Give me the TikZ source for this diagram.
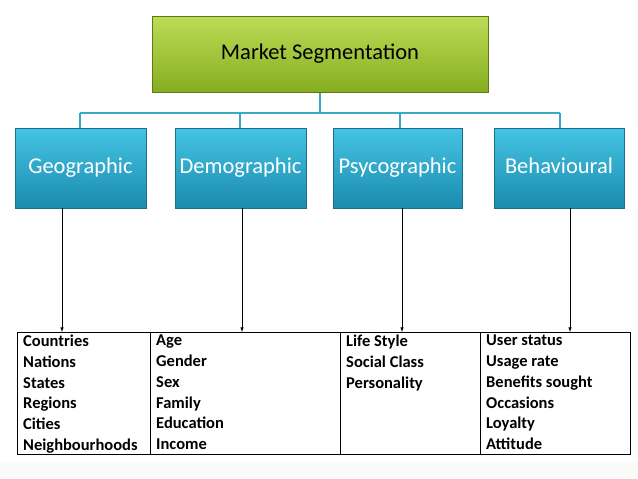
\documentclass[tikz,border=0pt]{standalone}
\usepackage{fontspec}
\setmainfont{Carlito}
\definecolor{gtop}{HTML}{BCDC55}
\definecolor{gbot}{HTML}{86AE22}
\definecolor{btop}{HTML}{45C4E4}
\definecolor{bbot}{HTML}{1B8BAE}
\definecolor{lnk}{HTML}{3AA6C8}
\tikzset{
 gbox/.style={draw=gbot!70!black, line width=0.6pt, top color=gtop, bottom color=gbot},
 bbox/.style={draw=bbot!80!black, line width=0.6pt, top color=btop, bottom color=bbot, text=white, text height=16pt, text depth=5pt, minimum height=80pt, font=\fontsize{22.5}{26}\selectfont},
 conn/.style={draw=lnk, line width=2.2pt},
 arr/.style={-latex, line width=0.6pt},
 item/.style={anchor=north west, inner sep=0pt, font=\fontsize{16.5}{20.7}\selectfont\bfseries, align=left}
}
\begin{document}
\begin{tikzpicture}[x=1pt,y=-1pt]
\useasboundingbox (0,0) rectangle (638,479);
\fill[gray!4] (0,462) rectangle (638,479);
\path[conn] (320,92) -- (320,113) coordinate (hub);
\path[conn] (80,113) -- (560,113);
\path[conn] (80,113) -- (80,128); \path[conn] (240,113) -- (240,128);
\path[conn] (400,113) -- (400,128); \path[conn] (560,113) -- (560,128);
\node[gbox, minimum width=336pt, minimum height=76pt, font=\fontsize{22.5}{26}\selectfont] (top) at (320,54) {Market Segmentation};
\node[bbox, minimum width=131pt] (g) at (80.5,168) {Geographic};
\node[bbox, minimum width=131pt] (d) at (240.5,168) {Demographic};
\node[bbox, minimum width=129pt] (p) at (397.5,168) {Psycographic};
\node[bbox, minimum width=130pt] (b) at (559,168) {Behavioural};
\draw[line width=0.7pt] (17,332) rectangle (630,454);
\draw[line width=0.7pt] (150,332) -- (150,454);
\draw[line width=0.7pt] (340,332) -- (340,454);
\draw[line width=0.7pt] (480,332) -- (480,454);
\coordinate (tg) at (62,332); \coordinate (td) at (242,332);
\coordinate (tp) at (402,332); \coordinate (tb) at (570,332);
\draw[arr] (g.south -| tg) -- (tg);
\draw[arr] (d.south -| td) -- (td);
\draw[arr] (p.south -| tp) -- (tp);
\draw[arr] (b.south -| tb) -- (tb);
\node[item] (c1) at (23,335) {Countries\\Nations\\States\\Regions\\Cities\\Neighbourhoods};
\node[item] (c2) at (156,335) {Age\\Gender\\Sex\\Family\\Education\\Income};
\node[item] (c3) at (346,335) {Life Style\\Social Class\\Personality};
\node[item] (c4) at (486,335) {User status\\Usage rate\\Benefits sought\\Occasions\\Loyalty\\Attitude};
\end{tikzpicture}
\end{document}
